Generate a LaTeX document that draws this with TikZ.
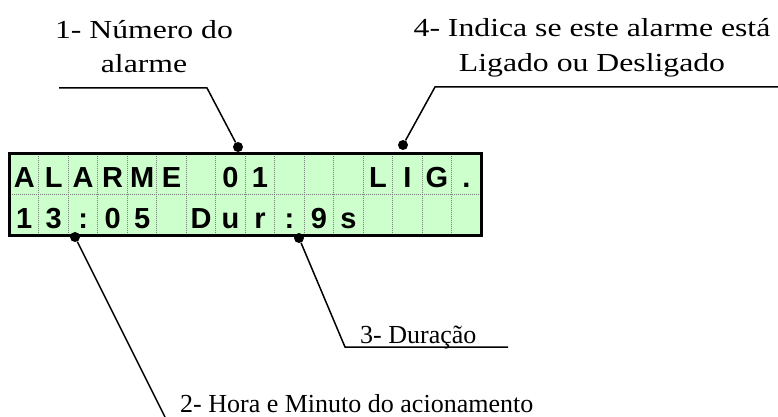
\documentclass[tikz,border=0pt]{standalone}
\usepackage[svgnames,x11names]{xcolor}
\usepackage{fontspec}
\usepackage{tikz}
\setmainfont{Liberation Serif}
\newfontfamily\lcdfont{Liberation Sans}
\newfontfamily\widefont[FakeStretch=1.22]{Liberation Serif}
\definecolor{LcdGreen}{HTML}{CCFFCC}
\usetikzlibrary{positioning,calc}

\begin{document}
\begin{tikzpicture}[x=1pt, y=-1pt,
hole/.style={
	circle,
	fill=Black,
	inner sep=0pt,
	minimum width=10pt
},
lcdchar/.style={
	font=\lcdfont\bfseries\fontsize{29}{29}\selectfont,
	anchor=base,
	inner sep=0pt
},
cellline/.style={
	densely dotted,
	Gray,
	line width=1pt
},
callout/.style={
	line width=1.5pt
},
note/.style={
	font=\fontsize{26}{34}\selectfont,
	inner sep=0pt,
	align=center
},
widenote/.style={
	note,
	font=\widefont\fontsize{26}{34}\selectfont
},
]
\useasboundingbox (0,0) rectangle (778,417);

% display
\node[fill=LcdGreen, inner sep=0pt, minimum width=471.5pt, minimum height=82pt, anchor=north west] (lcd) at (9.5,153.5) {};
\foreach \i in {1,...,15}
	\draw[cellline] ({9.5+\i*29.47},153.5) -- ({9.5+\i*29.47},235.5);
\draw[cellline] (9.5,194.5) -- (481,194.5);
\draw[line width=3pt] (lcd.north west) rectangle (lcd.south east);

\foreach \ch [count=\i] in {A,L,A,R,M,E, ,0,1, , , ,L,I,G,.}
	\node[lcdchar] (ra\i) at ({9.5+(\i-0.5)*29.47},187) {\ch};
\foreach \ch [count=\i] in {1,3,:,0,5, ,D,u,r,:,9,s, , , , }
	\node[lcdchar] (rb\i) at ({9.5+(\i-0.5)*29.47},228) {\ch};

% callouts
\node[hole] (d1) at (238,147) {};
\node[hole] (d4) at (403,145) {};
\node[hole] (d3) at (299,238) {};
\node[hole] (d2) at (75,237) {};

\coordinate (k1a) at (59,88);
\coordinate (k1b) at (207,88);
\coordinate (k4a) at (435,87);
\coordinate (k4b) at (778,87);
\coordinate (k3a) at (345,347);
\coordinate (k3b) at (508,347);
\coordinate (k2a) at (165,417);

\draw[callout] (k1a) -- (k1b) -- (d1);
\draw[callout] (d4) -- (k4a) -- (k4b);
\draw[callout] (d3) -- (k3a) -- (k3b);
\draw[callout] (d2) -- (k2a);

\node[widenote, anchor=base] (t1) at (144,73) {1- Número do\\alarme};
\node[widenote, anchor=base] (t4) at (592,72) {4- Indica se este alarme está\\[1pt]Ligado ou Desligado};
\node[note, anchor=base west] (t3) at (360,343) {3- Duração};
\node[note, anchor=base west] (t2) at (180,412) {2- Hora e Minuto do acionamento};

\end{tikzpicture}
\end{document}
